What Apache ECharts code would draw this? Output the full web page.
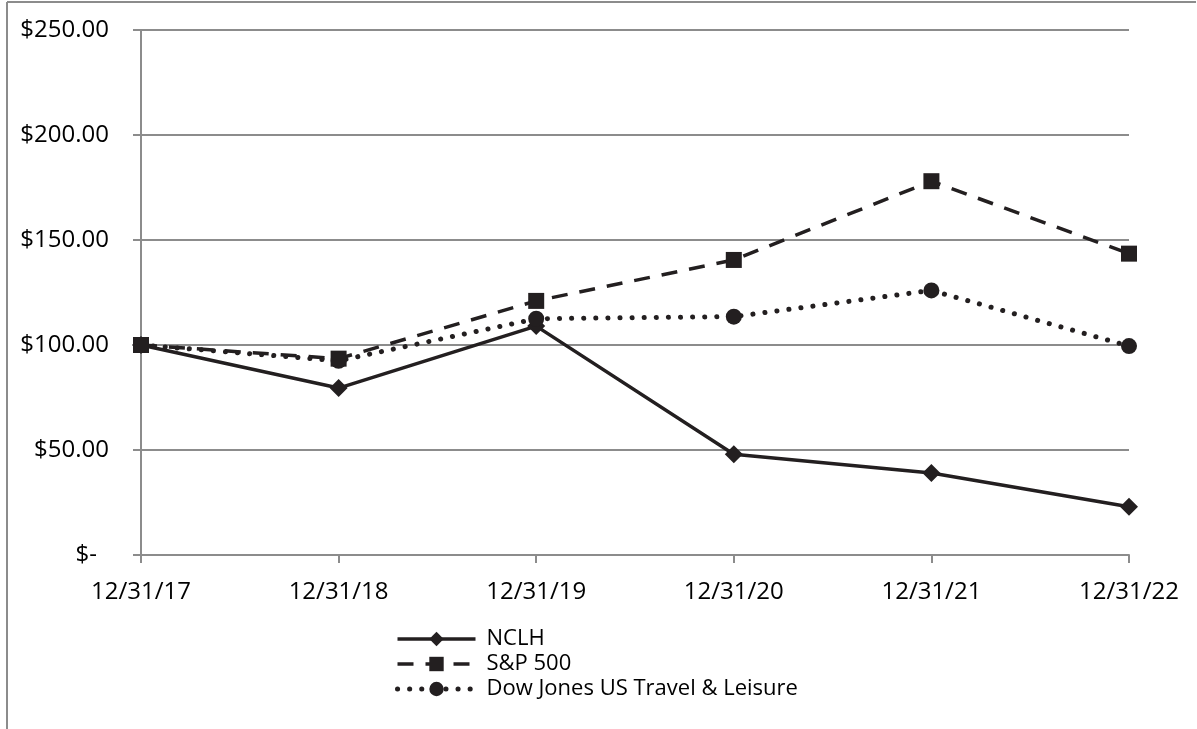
<!DOCTYPE html>
<html>
<head>
<meta charset="utf-8">
<script src="https://cdn.jsdelivr.net/npm/echarts@6/dist/echarts.min.js"></script>
<style>
  html, body { margin: 0; padding: 0; background: #fff; }
  #main { width: 1197px; height: 729px; }
</style>
</head>
<body>
<div id="main"></div>
<script>
// data
var dates = ['12/31/17', '12/31/18', '12/31/19', '12/31/20', '12/31/21', '12/31/22'];
var nclh = [100, 79.5, 109, 48, 39, 23];
var sp500 = [100, 93.5, 121, 140.5, 178, 143.5];
var djTravel = [100, 92.5, 112.5, 113.5, 126, 99.5];

var myChart = echarts.init(document.getElementById('main'));

var ink = '#231f20';
var gridGray = '#8c8c8c';
var font = '"Open Sans", "Noto Sans", sans-serif';

var solidLine = { color: ink, width: 3.5 };
var dashLine = { color: ink, width: 3.5, type: [16, 12] };
var dotLine = { color: ink, width: 5, type: [0.1, 12], cap: 'round' };

var option = {
    animation: false,
    backgroundColor: '#fff',
    textStyle: { fontFamily: font },
    graphic: [
        { type: 'line', shape: { x1: 7, y1: 2, x2: 7, y2: 729 }, style: { stroke: gridGray, lineWidth: 2 } },
        { type: 'line', shape: { x1: 7, y1: 2, x2: 1196, y2: 2 }, style: { stroke: gridGray, lineWidth: 2 } }
    ],
    grid: { left: 141, right: 68, top: 30, bottom: 174 },
    legend: {
        orient: 'vertical',
        left: 390,
        top: 623,
        itemWidth: 78,
        itemHeight: 18,
        itemGap: 3,
        textStyle: { fontSize: 22, color: '#000', fontFamily: font, padding: [0, 0, 0, 6] },
        data: [
            { name: 'NCLH', lineStyle: solidLine },
            { name: 'S&P 500', lineStyle: dashLine },
            { name: 'Dow Jones US Travel & Leisure', lineStyle: dotLine }
        ]
    },
    xAxis: {
        type: 'category',
        boundaryGap: false,
        data: dates,
        axisLine: { lineStyle: { color: gridGray, width: 2 } },
        axisTick: { show: true, length: 8, lineStyle: { color: gridGray, width: 2 } },
        axisLabel: { fontSize: 24, color: '#000', margin: 25, fontFamily: font }
    },
    yAxis: {
        type: 'value',
        min: 0,
        max: 250,
        interval: 50,
        axisLine: { show: true, lineStyle: { color: gridGray, width: 2 } },
        axisTick: { show: true, length: 8, lineStyle: { color: gridGray, width: 2 } },
        splitLine: { lineStyle: { color: gridGray, width: 2 } },
        axisLabel: {
            fontSize: 24,
            color: '#000',
            margin: 32,
            fontFamily: font,
            formatter: function (v) {
                if (v === 0) return '{d|$-}';
                return '$' + v.toFixed(2);
            },
            rich: { d: { fontSize: 24, color: '#000', fontFamily: font, padding: [0, 12, 0, 0] } }
        }
    },
    series: [
        {
            name: 'NCLH',
            type: 'line',
            data: nclh,
            symbol: 'diamond',
            symbolSize: 18,
            itemStyle: { color: ink },
            lineStyle: solidLine,
            z: 3
        },
        {
            name: 'S&P 500',
            type: 'line',
            data: sp500,
            symbol: 'rect',
            symbolSize: 16,
            itemStyle: { color: ink },
            lineStyle: dashLine,
            z: 4
        },
        {
            name: 'Dow Jones US Travel & Leisure',
            type: 'line',
            data: djTravel,
            symbol: 'circle',
            symbolSize: 16,
            itemStyle: { color: ink },
            lineStyle: dotLine,
            z: 5
        }
    ]
};

myChart.setOption(option);
</script>
</body>
</html>
